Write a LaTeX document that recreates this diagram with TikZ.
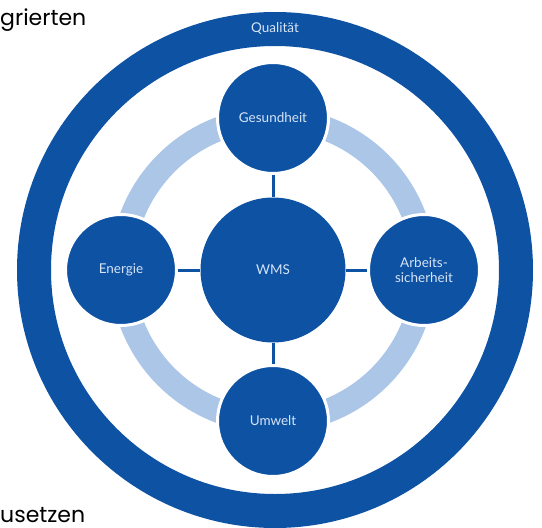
\documentclass[tikz,border=0pt]{standalone}
\usepackage{fontspec}
\setmainfont{Lato}
\newfontfamily\pagefont{Poppins}
\usepackage{tikz}
\definecolor{wmsblue}{RGB}{14,82,164}
\definecolor{ringblue}{RGB}{172,198,232}
\definecolor{labelblue}{RGB}{214,228,246}
\tikzstyle{hub}=[circle, fill=wmsblue, minimum size=145pt, inner sep=0pt, text=labelblue, font=\fontsize{13.5}{15}\selectfont]
\tikzstyle{sat}=[circle, fill=wmsblue, draw=white, line width=3pt, minimum size=111pt, inner sep=0pt, align=center, text=labelblue, font=\fontsize{13.5}{15}\selectfont]
\tikzstyle{link}=[wmsblue, line width=3pt]
\tikzstyle{pagetext}=[anchor=base west, inner sep=0pt, font=\pagefont\fontsize{22}{22}\selectfont]

\begin{document}
\begin{tikzpicture}[x=1pt, y=-1pt]
  \clip (0,0) rectangle (542,528);
  \draw[wmsblue, line width=34pt] (275,270) circle (241pt);
  \draw[ringblue, line width=24pt] (273,270) circle (151pt);
  \node[text=labelblue, font=\fontsize{13.5}{15}\selectfont] (qual) at (275,29) {Qualität};
  \node[hub] (wms) at (273,270) {WMS};
  \node[sat] (ges) at (273,118) {Gesundheit};
  \node[sat] (arb) at (424,270) {Arbeits-\\sicherheit};
  \node[sat] (umw) at (273,421) {Umwelt};
  \node[sat] (ene) at (121,270) {Energie};
  \foreach \s in {ges,arb,umw,ene}
    \draw[link] (wms) -- (\s);
  \node[pagetext] (oben) at (0,25) {grierten};
  \node[pagetext] (unten) at (0,522) {usetzen};
\end{tikzpicture}
\end{document}
